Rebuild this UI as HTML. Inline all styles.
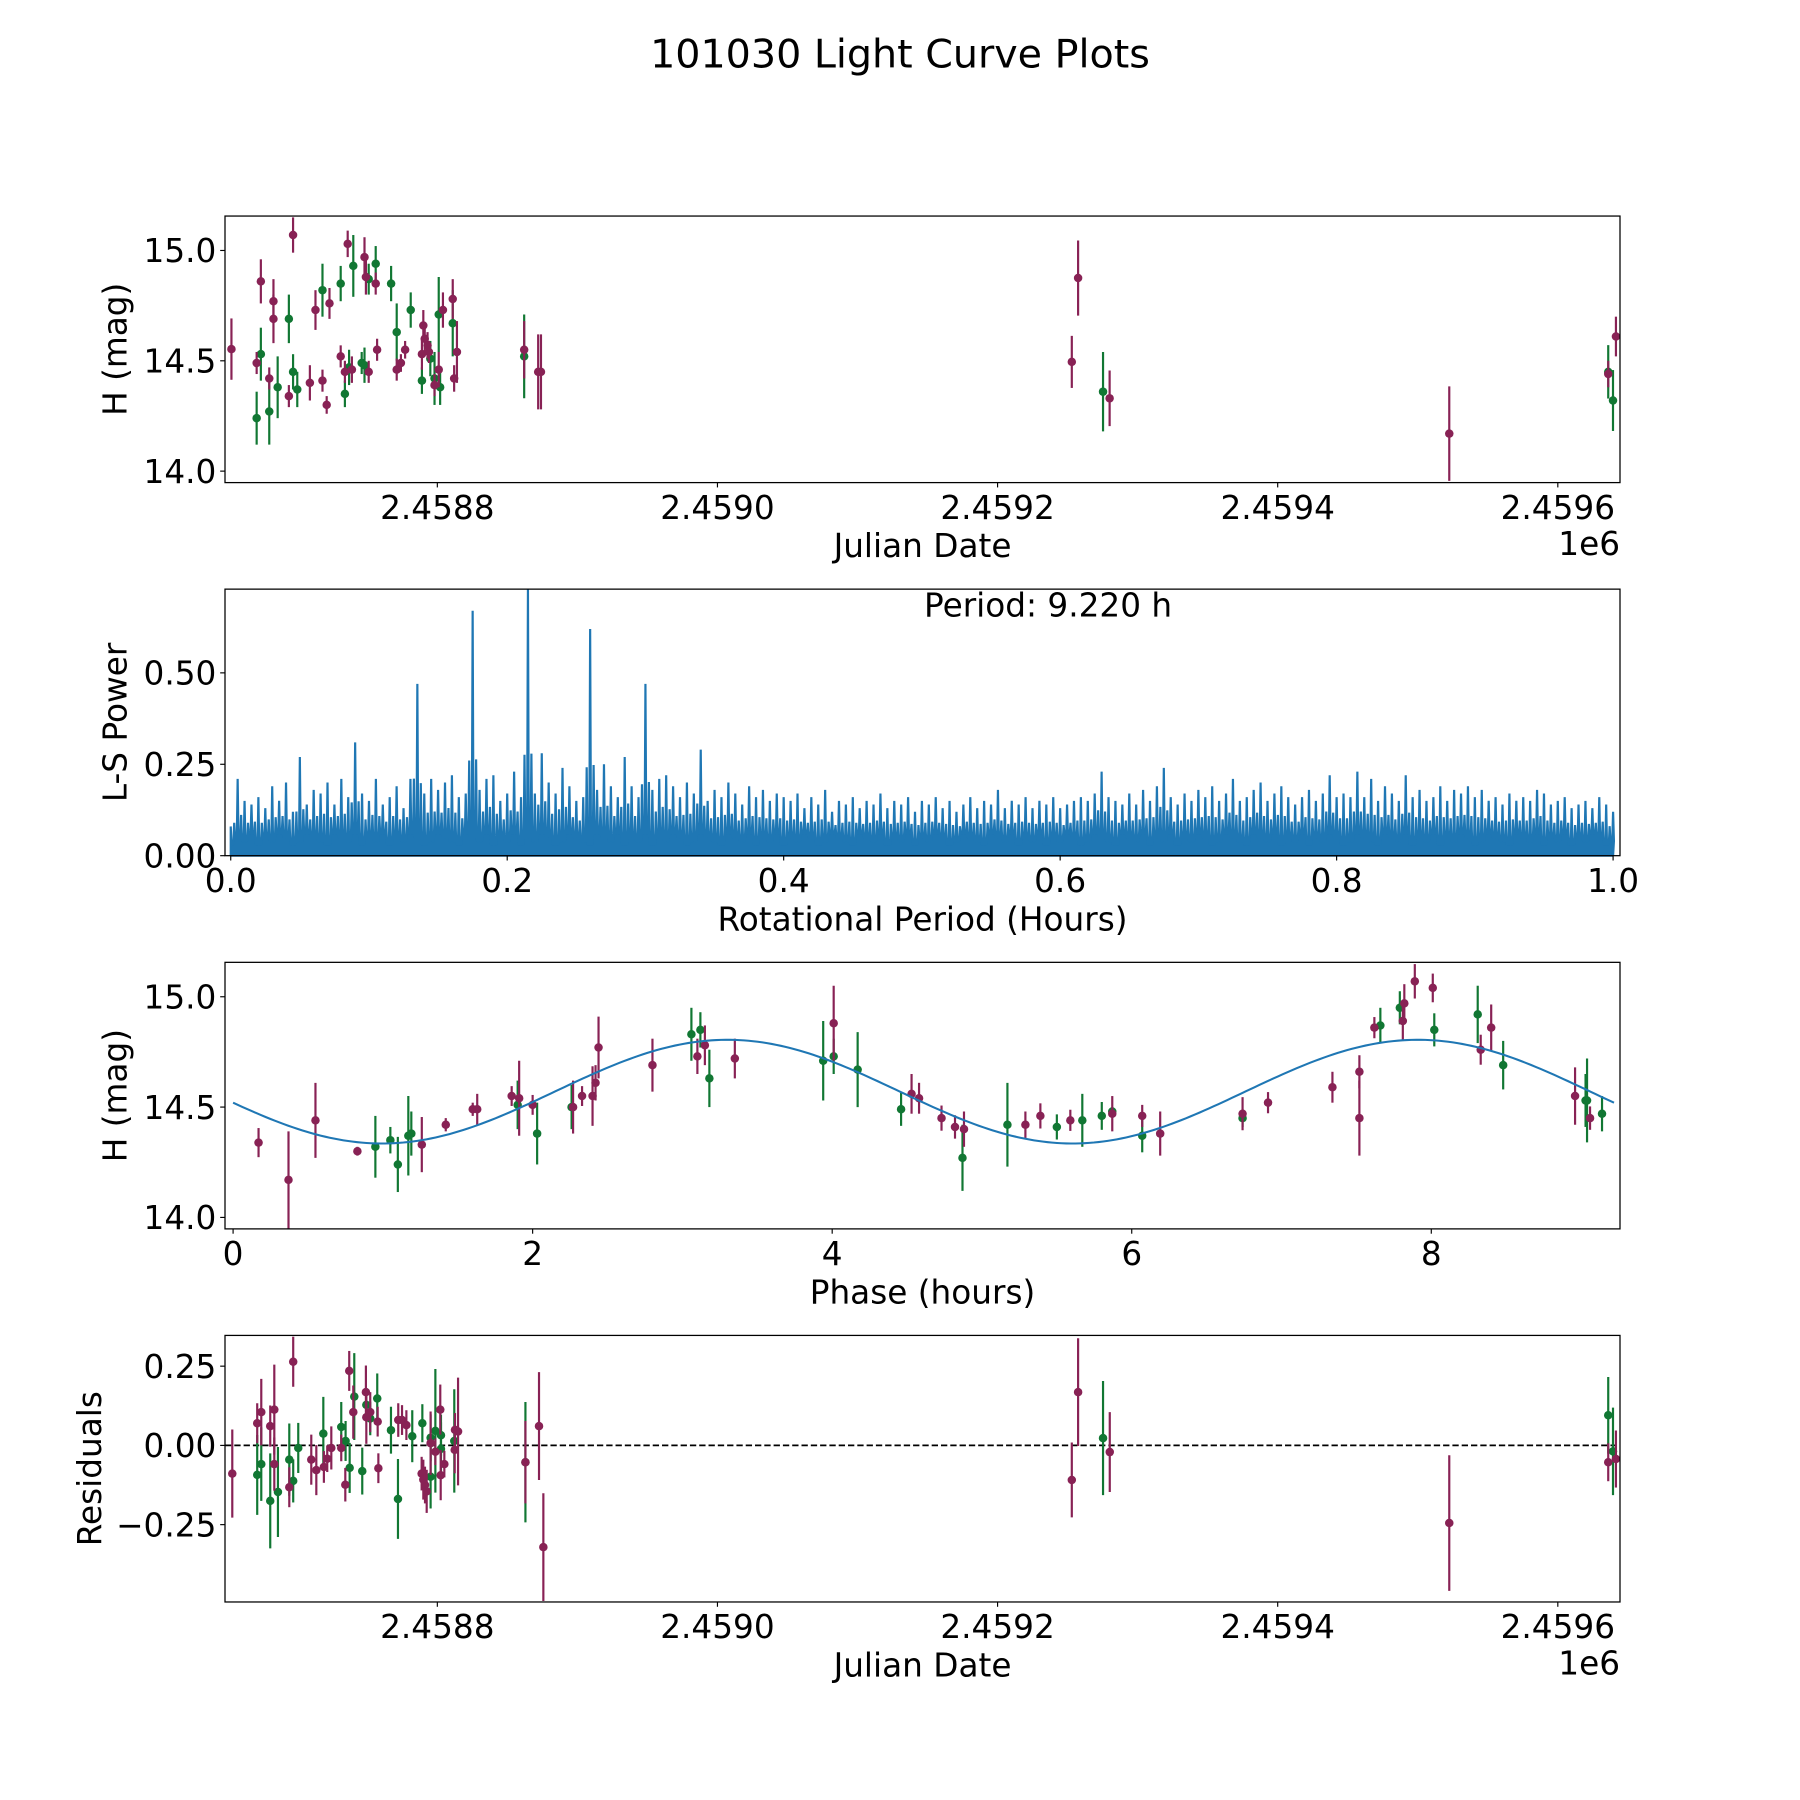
<!DOCTYPE html>
<html><head><meta charset="utf-8"><title>101030 Light Curve Plots</title>
<style>
html,body{margin:0;padding:0;background:#fff;}
svg{display:block;font-family:"DejaVu Sans","Liberation Sans",sans-serif;}
</style></head>
<body>
<svg id="fig" xmlns="http://www.w3.org/2000/svg" width="1800" height="1800" viewBox="0 0 1568 1568">
<rect x="0" y="0" width="1568" height="1568" fill="#fff"/>
<text x="784" y="59" font-size="34.5" text-anchor="middle" fill="#000">101030 Light Curve Plots</text>
</svg>
<script>
// ---------- DATA ----------
const JD_BASE = 2458000;
// Panel 1: raw light curve
const lcJdPurple = [653,671,674,680,683,683,694,697,709,713,718,721,723,731,734,736,739,748,749,751,756,757,771,774,777,790,789,791,793,794,798,801,804,811,812,814,862,872,874,1253,1257.5,1280,1522.5,1636,1641.5];
const lcHPurple = [14.553,14.49,14.86,14.42,14.77,14.69,14.34,15.07,14.40,14.73,14.41,14.30,14.76,14.52,14.45,15.03,14.46,14.97,14.88,14.45,14.85,14.55,14.46,14.49,14.55,14.66,14.53,14.60,14.57,14.54,14.39,14.46,14.73,14.78,14.42,14.54,14.55,14.45,14.45,14.495,14.875,14.33,14.17,14.44,14.61];
const lcErrPurple = [.139,.05,.10,.05,.10,.11,.05,.08,.08,.09,.05,.04,.07,.05,.05,.06,.06,.09,.08,.05,.05,.05,.05,.04,.04,.07,.07,.06,.06,.05,.05,.08,.08,.09,.06,.14,.13,.17,.17,.118,.17,.126,.214,.06,.09];
const lcJdGreen = [671,674,680,686,694,697,700,718,731,734,737,740,746,748,751,756,767,771,781,789,795,798,801,802,811,862,1275.3,1636,1639.4];
const lcHGreen = [14.24,14.53,14.27,14.38,14.69,14.45,14.37,14.82,14.85,14.35,14.47,14.93,14.49,14.48,14.87,14.94,14.85,14.63,14.73,14.41,14.51,14.42,14.71,14.38,14.67,14.52,14.36,14.45,14.32];
const lcErrGreen = [.12,.12,.15,.14,.11,.08,.08,.12,.08,.06,.08,.14,.05,.08,.07,.08,.08,.13,.08,.06,.08,.12,.17,.08,.15,.19,.18,.121,.138];

// Panel 2: Lomb-Scargle periodogram (bins of 0.005 h)
const lsStep = 0.005;
const lsPower = [0.08,0.21,0.15,0.14,0.16,0.13,0.19,0.15,0.20,0.12,0.27,0.14,0.18,0.17,0.20,0.14,0.21,0.16,0.31,0.17,0.15,
0.21,0.14,0.16,0.19,0.13,0.21,0.47,0.17,0.21,0.18,0.20,0.22,0.16,0.17,0.67,0.18,0.21,0.22,0.15,0.17,
0.23,0.16,0.73,0.17,0.28,0.20,0.17,0.24,0.19,0.15,0.16,0.62,0.18,0.25,0.19,0.16,0.27,0.19,0.16,0.47,
0.18,0.21,0.22,0.19,0.16,0.20,0.17,0.29,0.15,0.18,0.16,0.20,0.17,0.14,0.19,0.16,0.18,0.15,0.17,0.16,
0.15,0.17,0.13,0.16,0.14,0.18,0.12,0.15,0.14,0.16,0.13,0.15,0.14,0.17,0.13,0.15,0.14,0.16,0.12,0.15,
0.14,0.16,0.13,0.15,0.12,0.14,0.16,0.13,0.15,0.14,0.18,0.13,0.15,0.14,0.16,0.13,0.15,0.14,0.16,0.13,
0.14,0.15,0.16,0.15,0.17,0.23,0.16,0.15,0.14,0.17,0.14,0.18,0.15,0.19,0.24,0.16,0.14,0.17,0.15,0.18,
0.16,0.19,0.15,0.17,0.21,0.15,0.16,0.18,0.20,0.15,0.17,0.19,0.16,0.14,0.16,0.18,0.15,0.17,0.22,0.16,
0.17,0.16,0.23,0.16,0.21,0.15,0.19,0.17,0.15,0.22,0.16,0.18,0.15,0.16,0.19,0.15,0.18,0.17,0.19,0.16,
0.18,0.15,0.16,0.14,0.17,0.15,0.16,0.15,0.18,0.17,0.14,0.15,0.16,0.13,0.14,0.15,0.13,0.16,0.14,0.12];
const lsTrough = [0.03,0.05,0.04,0.06,0.03,0.05,0.04,0.06,0.05,0.03,0.04,0.06,0.05,0.04,0.03,0.06,0.05,0.04,0.06,0.03,0.05,
0.04,0.06,0.03,0.05,0.04,0.06,0.05,0.03,0.04,0.06,0.05,0.04,0.03,0.06,0.05,0.04,0.06,0.03,0.05,0.04,
0.06,0.03,0.05,0.04,0.06,0.05,0.03,0.04,0.06,0.05,0.04,0.03,0.06,0.05,0.04,0.06,0.03,0.05,0.04,0.06,
0.03,0.05,0.04,0.06,0.05,0.03,0.04,0.06,0.05,0.04,0.03,0.06,0.05,0.04,0.06,0.03,0.05,0.04,0.06,0.03,
0.05,0.04,0.06,0.05,0.03,0.04,0.06,0.05,0.04,0.03,0.06,0.05,0.04,0.06,0.03,0.05,0.04,0.06,0.03,0.05,
0.04,0.06,0.05,0.03,0.04,0.06,0.05,0.04,0.03,0.06,0.05,0.04,0.06,0.03,0.05,0.04,0.06,0.03,0.05,0.04,
0.06,0.05,0.03,0.04,0.06,0.05,0.04,0.03,0.06,0.05,0.04,0.06,0.03,0.05,0.04,0.06,0.03,0.05,0.04,0.06,
0.05,0.03,0.04,0.06,0.05,0.04,0.03,0.06,0.05,0.04,0.06,0.03,0.05,0.04,0.06,0.03,0.05,0.04,0.06,0.05,
0.03,0.04,0.06,0.05,0.04,0.03,0.06,0.05,0.04,0.06,0.03,0.05,0.04,0.06,0.03,0.05,0.04,0.06,0.05,0.03,
0.04,0.06,0.05,0.04,0.03,0.06,0.05,0.04,0.06,0.03,0.05,0.04,0.06,0.03,0.05,0.04,0.06,0.05,0.03,0.04];

// Panel 3: phase-folded light curve
const phPurple = [0.17,0.37,0.55,0.83,1.26,1.42,1.60,1.63,1.86,1.91,2.00,2.27,2.33,2.40,2.42,2.44,2.80,3.10,3.15,3.35,4.01,4.53,4.58,4.73,4.82,4.88,5.29,5.39,5.59,5.87,6.07,6.19,6.74,6.91,7.34,7.52,7.52,7.62,7.81,7.82,7.89,8.01,8.33,8.40,8.96,9.06];
const phHPurple = [14.339,14.17,14.44,14.30,14.33,14.42,14.49,14.49,14.55,14.54,14.51,14.50,14.55,14.55,14.61,14.77,14.69,14.73,14.78,14.72,14.88,14.56,14.54,14.45,14.41,14.40,14.42,14.46,14.44,14.47,14.46,14.38,14.47,14.52,14.59,14.66,14.45,14.86,14.89,14.97,15.07,15.04,14.76,14.86,14.55,14.45];
const phErrPurple = [.066,.22,.17,.02,.125,.03,.03,.07,.045,.17,.045,.12,.045,.135,.08,.14,.12,.08,.09,.09,.17,.09,.07,.057,.053,.08,.06,.057,.048,.08,.05,.10,.075,.048,.07,.075,.17,.048,.086,.087,.078,.065,.068,.105,.13,.053];
const phGreen = [0.95,1.05,1.10,1.17,1.19,1.90,2.03,2.26,3.06,3.12,3.18,3.94,4.01,4.17,4.46,4.87,5.17,5.50,5.67,5.80,5.87,6.07,6.74,7.66,7.79,8.02,8.31,8.48,9.03,9.04,9.14];
const phHGreen = [14.32,14.35,14.24,14.37,14.38,14.51,14.38,14.50,14.83,14.85,14.63,14.71,14.73,14.67,14.49,14.27,14.42,14.41,14.44,14.46,14.48,14.37,14.45,14.87,14.95,14.85,14.92,14.69,14.53,14.53,14.47];
const phErrGreen = [.14,.06,.125,.18,.10,.11,.14,.10,.12,.08,.13,.18,.08,.17,.075,.15,.19,.057,.12,.063,.02,.075,.04,.08,.075,.075,.13,.11,.12,.19,.08];
// sinusoid fit parameters
const fitMean = 14.57, fitAmp = 0.235, fitPeak = 3.3, fitHarmPeriod = 4.61, foldPeriod = 9.22;

// Panel 4: residuals
const resJdPurple = [653.6,671.4,674.3,680.7,683.6,683.6,694.3,697.1,710,713.6,719,721.4,724.3,731.4,734.3,737.1,740,749,749.3,752.1,757.9,757.4,772.1,774.8,777.9,788.8,790,791.2,792.4,795.2,798.6,802.1,802.4,805,812.4,812.6,814.8,862.9,872.6,875.7,1253,1257.5,1280.1,1522.5,1636,1641.5];
const resPurple = [-.089,.070,.105,.061,.113,-.059,-.132,.264,-.045,-.078,-.068,-.042,-.008,-.008,-.124,.235,.105,.168,.089,.105,-.072,.075,.08,.08,.064,-.089,-.108,-.125,-.145,.007,-.02,.113,-.094,-.059,-.014,.049,.044,-.053,.061,-.321,-.109,.168,-.021,-.245,-.053,-.043];
const resErrPurple = [.139,.063,.105,.065,.142,.084,.063,.079,.079,.079,.05,.042,.068,.042,.053,.063,.084,.084,.084,.063,.047,.047,.053,.047,.047,.053,.063,.058,.068,.1,.042,.079,.079,.042,.074,.053,.17,.13,.17,.17,.118,.17,.126,.214,.06,.09];
const resJdGreen = [671.4,674.3,680.7,686.2,694.3,697.1,700.7,718.6,731.4,734.5,737.4,740.7,746.4,749.3,752.1,757.1,766.9,771.9,782.1,789.3,795.2,795.2,798.6,802.6,802.6,812.1,862.9,1275.3,1636,1639.4];
const resGreen = [-.093,-.059,-.175,-.147,-.045,-.112,-.008,.037,.058,.014,-.071,.154,-.081,.128,.085,.148,.048,-.169,.029,.07,.024,-.099,.046,.032,-.011,.014,-.053,.023,.095,-.019];
const resErrGreen = [.126,.116,.15,.142,.114,.068,.079,.116,.079,.063,.079,.137,.074,.053,.053,.079,.074,.126,.082,.06,.074,.1,.195,.065,.084,.163,.19,.18,.121,.138];

// ---------- RENDERING ----------
const NS = "http://www.w3.org/2000/svg";
const svg = document.getElementById("fig");
const PURPLE = "#882255", GREEN = "#117733", BLUE = "#1f77b4";
const L = 196, R = 1411.2, H = 232.2;
const TOPS = [188.2, 513.2, 838.3, 1163.3];
const FS = 28.5;

function mk(tag, attrs, parent) {
  const e = document.createElementNS(NS, tag);
  for (const k in attrs) e.setAttribute(k, attrs[k]);
  (parent || svg).appendChild(e);
  return e;
}
function scale(d0, d1, r0, r1) { return v => r0 + (v - d0) / (d1 - d0) * (r1 - r0); }

function axes(idx, name, xd, yd, xticks, xlabels, yticks, ylabels, xlabel, ylabel, ylabelX, offset) {
  const top = TOPS[idx], bot = top + H;
  const g = mk("g", {});
  
  
  const sx = scale(xd[0], xd[1], L, R), sy = scale(yd[0], yd[1], bot, top);
  const plot = mk("g", {}, g);
  
  
  const frame = mk("rect", {x: L, y: top, width: R - L, height: H, fill: "none", stroke: "#000", "stroke-width": 1.1}, g);
  
  
  xticks.forEach((t, i) => {
    const x = sx(t);
    const tk = mk("line", {x1: x, x2: x, y1: bot, y2: bot + 4.2, stroke: "#000", "stroke-width": 1}, g);
    
    
    const tl = mk("text", {x: x, y: bot + 31.5, "font-size": FS, "text-anchor": "middle"}, g);
    
    
    tl.textContent = xlabels[i];
  });
  yticks.forEach((t, i) => {
    const y = sy(t);
    const tk = mk("line", {x1: L - 4.2, x2: L, y1: y, y2: y, stroke: "#000", "stroke-width": 1}, g);
    
    
    const tl = mk("text", {x: L - 7.5, y: y + 10.2, "font-size": FS, "text-anchor": "end"}, g);
    
    
    tl.textContent = ylabels[i];
  });
  const xl = mk("text", {x: (L + R) / 2, y: bot + 65, "font-size": FS, "text-anchor": "middle"}, g);
  
  
  xl.textContent = xlabel;
  const cy = top + H / 2;
  const yl = mk("text", {x: ylabelX, y: cy, "font-size": FS, "text-anchor": "middle", transform: "rotate(-90 " + ylabelX + " " + cy + ")"}, g);
  
  
  yl.textContent = ylabel;
  if (offset) {
    const ot = mk("text", {x: R, y: bot + 63, "font-size": FS, "text-anchor": "end"}, g);
    
    
    ot.textContent = offset;
  }
  return {sx, sy, plot, g};
}

function errPoints(ax, xs, ys, es, color, name) {
  for (let i = 0; i < xs.length; i++) {
    const x = ax.sx(xs[i]);
    const bar = mk("line", {x1: x, x2: x, y1: ax.sy(ys[i] - es[i]), y2: ax.sy(ys[i] + es[i]), stroke: color, "stroke-width": 1.9}, ax.plot);
    
    
    const dot = mk("circle", {cx: x, cy: ax.sy(ys[i]), r: 3.7, fill: color}, ax.plot);
    
    
  }
}

const jdTicks = [2458800, 2459000, 2459200, 2459400, 2459600];
const jdLabels = ["2.4588", "2.4590", "2.4592", "2.4594", "2.4596"];
const jdDomain = [2458648.4, 2459644.4];
const toJd = a => a.map(v => v + JD_BASE);

// Panel 1
const a1 = axes(0, "light-curve-panel", jdDomain, [13.948, 15.156], jdTicks, jdLabels,
  [14.0, 14.5, 15.0], ["14.0", "14.5", "15.0"], "Julian Date", "H (mag)", 110, "1e6");
errPoints(a1, toJd(lcJdGreen), lcHGreen, lcErrGreen, GREEN, "green-filter");
errPoints(a1, toJd(lcJdPurple), lcHPurple, lcErrPurple, PURPLE, "purple-filter");

// Panel 2
const a2 = axes(1, "periodogram-panel", [-0.00415, 1.005], [0, 0.729], [0, 0.2, 0.4, 0.6, 0.8, 1.0],
  ["0.0", "0.2", "0.4", "0.6", "0.8", "1.0"], [0, 0.25, 0.5], ["0.00", "0.25", "0.50"],
  "Rotational Period (Hours)", "L-S Power", 110, null);
{
  const dl = 0.0006;
  const n = lsPower.length;
  let d = "M" + a2.sx(0).toFixed(2) + "," + a2.sy(0).toFixed(2);
  for (let i = 0; i < n; i++) {
    const p = i * lsStep;
    d += " L" + a2.sx(Math.max(0, p - dl)).toFixed(2) + "," + a2.sy(lsTrough[i]).toFixed(2);
    d += " L" + a2.sx(p).toFixed(2) + "," + a2.sy(lsPower[i]).toFixed(2);
    d += " L" + a2.sx(p + dl).toFixed(2) + "," + a2.sy(lsTrough[i]).toFixed(2);
    if (i < n - 1) {
      const m = p + lsStep / 2;
      const mh = 0.62 * (lsPower[i] + lsPower[i + 1]) / 2;
      d += " L" + a2.sx(m - dl).toFixed(2) + "," + a2.sy(lsTrough[i]).toFixed(2);
      d += " L" + a2.sx(m).toFixed(2) + "," + a2.sy(mh).toFixed(2);
      d += " L" + a2.sx(m + dl).toFixed(2) + "," + a2.sy(lsTrough[i + 1]).toFixed(2);
    }
  }
  d += " L" + a2.sx((n - 1) * lsStep).toFixed(2) + "," + a2.sy(0).toFixed(2) + " Z";
  const ls = mk("path", {d: d, fill: BLUE, stroke: BLUE, "stroke-width": 1.9, "stroke-linejoin": "bevel"}, a2.plot);
  
  
  const pt = mk("text", {x: 913, y: 537, "font-size": FS, "text-anchor": "middle"}, a2.g);
  
  
  pt.textContent = "Period: 9.220 h";
}

// Panel 3
const a3 = axes(2, "phase-panel", [-0.054, 9.26], [13.948, 15.156], [0, 2, 4, 6, 8], ["0", "2", "4", "6", "8"],
  [14.0, 14.5, 15.0], ["14.0", "14.5", "15.0"], "Phase (hours)", "H (mag)", 110, null);
errPoints(a3, phGreen, phHGreen, phErrGreen, GREEN, "green-phase");
errPoints(a3, phPurple, phHPurple, phErrPurple, PURPLE, "purple-phase");
{
  let d = "";
  for (let i = 0; i <= 300; i++) {
    const p = foldPeriod * i / 300;
    const m = fitMean + fitAmp * Math.cos(2 * Math.PI * (p - fitPeak) / fitHarmPeriod);
    d += (i ? " L" : "M") + a3.sx(p).toFixed(2) + "," + a3.sy(m).toFixed(2);
  }
  const fit = mk("path", {d: d, fill: "none", stroke: BLUE, "stroke-width": 1.8}, a3.plot);
  
  
}

// Panel 4
const a4 = axes(3, "residuals-panel", jdDomain, [-0.494, 0.347], jdTicks, jdLabels,
  [-0.25, 0, 0.25], ["\u22120.25", "0.00", "0.25"], "Julian Date", "Residuals", 88, "1e6");
{
  const zl = mk("line", {x1: L, x2: R, y1: a4.sy(0), y2: a4.sy(0), stroke: "#000", "stroke-width": 1.5, "stroke-dasharray": "5.5,2.6"}, a4.plot);
  
  
}
errPoints(a4, toJd(resJdGreen), resGreen, resErrGreen, GREEN, "green-residual");
errPoints(a4, toJd(resJdPurple), resPurple, resErrPurple, PURPLE, "purple-residual");
</script>
</body></html>
